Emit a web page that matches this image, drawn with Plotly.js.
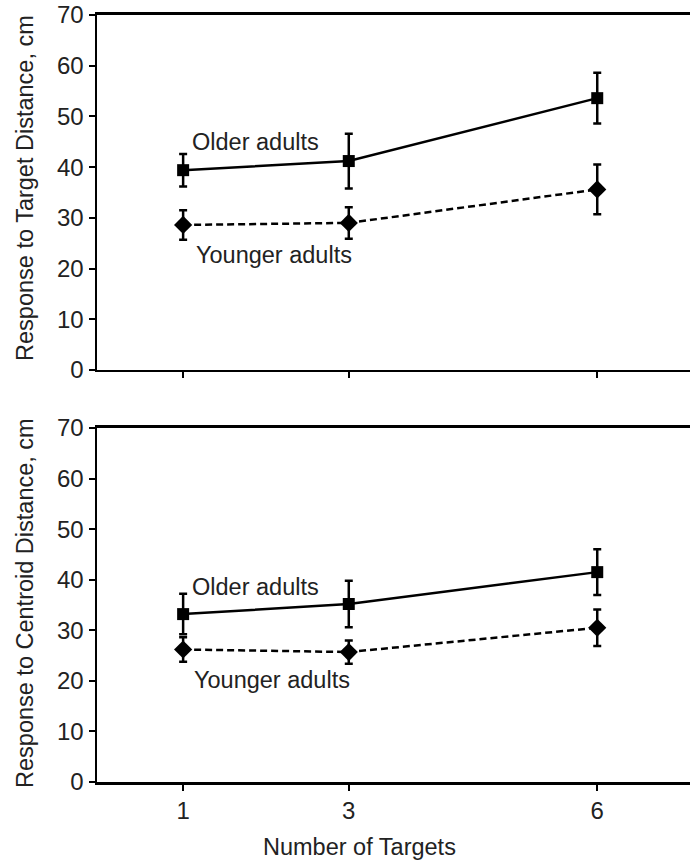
<!DOCTYPE html>
<html>
<head>
<meta charset="utf-8">
<script src="https://cdn.plot.ly/plotly-3.0.1.min.js"></script>
<style>html,body{margin:0;padding:0;background:#fff;}#chart{width:690px;height:862px;}</style>
</head>
<body>
<div id="chart"></div>
<script>
// Data
const targets = [1, 3, 6];
// Top panel: Response to Target Distance (cm)
const targetOlder = [39.4, 41.2, 53.6];
const targetOlderErr = [3.2, 5.4, 5.0];
const targetYounger = [28.6, 29.0, 35.6];
const targetYoungerErr = [2.9, 3.1, 4.9];
// Bottom panel: Response to Centroid Distance (cm)
const centroidOlder = [33.2, 35.2, 41.5];
const centroidOlderErr = [4.0, 4.6, 4.5];
const centroidYounger = [26.2, 25.7, 30.5];
const centroidYoungerErr = [2.4, 2.3, 3.6];
const yTicks = [0, 10, 20, 30, 40, 50, 60, 70];
const xTickLabels = ['1', '3', '6'];
const labels = {older: 'Older adults', younger: 'Younger adults'};

const FONT = 'Liberation Sans, Arial, sans-serif';
const TXT = '#222';

function series(x, y, err, sym, size, dash, xa, ya) {
  return {
    type: 'scatter', mode: 'lines+markers', x: x, y: y,
    xaxis: xa, yaxis: ya,
    line: {color: '#000', width: 2.5, dash: dash},
    marker: {color: '#000', symbol: sym, size: size},
    error_y: {type: 'data', array: err, visible: true, color: '#000', thickness: 2.5, width: 4},
    showlegend: false, hoverinfo: 'skip', cliponaxis: false
  };
}

const data = [
  series(targets, targetOlder, targetOlderErr, 'square', 12, 'solid', 'x', 'y'),
  series(targets, targetYounger, targetYoungerErr, 'diamond', 14, '7px,4px', 'x', 'y'),
  series(targets, centroidOlder, centroidOlderErr, 'square', 12, 'solid', 'x2', 'y2'),
  series(targets, centroidYounger, centroidYoungerErr, 'diamond', 14, '7px,4px', 'x2', 'y2')
];

const xBase = {
  range: [-0.04, 7.12], tickmode: 'array', tickvals: targets, ticktext: xTickLabels,
  ticks: 'outside', ticklen: 6, tickwidth: 2, tickcolor: '#000',
  showline: true, linecolor: '#000', linewidth: 2.5, mirror: true,
  showgrid: false, zeroline: false,
  tickfont: {family: FONT, size: 24, color: TXT}
};
const yBase = {
  range: [0, 70], tickmode: 'array', tickvals: yTicks,
  ticks: 'outside', ticklen: 6, tickwidth: 2, tickcolor: '#000',
  showline: true, linecolor: '#000', linewidth: 2.5,
  showgrid: false, zeroline: false,
  tickfont: {family: FONT, size: 24, color: TXT}
};

const annFont = {family: FONT, size: 23.5, color: TXT};
const layout = {
  width: 690, height: 862,
  margin: {l: 97, r: 0, t: 0, b: 0},
  paper_bgcolor: '#fff', plot_bgcolor: '#fff',
  xaxis: Object.assign({}, xBase, {anchor: 'y', domain: [0, 1], showticklabels: false}),
  yaxis: Object.assign({}, yBase, {anchor: 'x', domain: [0.5708, 0.9826]}),
  xaxis2: Object.assign({}, xBase, {anchor: 'y2', domain: [0, 1]}),
  yaxis2: Object.assign({}, yBase, {anchor: 'x2', domain: [0.0928, 0.5035]}),
  annotations: [
    {xref: 'x', yref: 'y', x: 1.08, y: 45.0, text: labels.older, showarrow: false, xanchor: 'left', yanchor: 'middle', font: annFont},
    {xref: 'x', yref: 'y', x: 1.13, y: 22.7, text: labels.younger, showarrow: false, xanchor: 'left', yanchor: 'middle', font: annFont},
    {xref: 'x2', yref: 'y2', x: 1.08, y: 38.6, text: labels.older, showarrow: false, xanchor: 'left', yanchor: 'middle', font: annFont},
    {xref: 'x2', yref: 'y2', x: 1.11, y: 20.2, text: labels.younger, showarrow: false, xanchor: 'left', yanchor: 'middle', font: annFont},
    {xref: 'paper', yref: 'paper', x: -0.1214, y: 0.782, text: 'Response to Target Distance, cm', textangle: -90, showarrow: false, xanchor: 'center', yanchor: 'middle', font: annFont},
    {xref: 'paper', yref: 'paper', x: -0.1214, y: 0.3005, text: 'Response to Centroid Distance, cm', textangle: -90, showarrow: false, xanchor: 'center', yanchor: 'middle', font: annFont},
    {xref: 'paper', yref: 'paper', x: 0.4435, y: 0.0174, text: 'Number of Targets', showarrow: false, xanchor: 'center', yanchor: 'middle', font: annFont}
  ]
};

Plotly.newPlot('chart', data, layout, {staticPlot: true, displayModeBar: false});
</script>
</body>
</html>
